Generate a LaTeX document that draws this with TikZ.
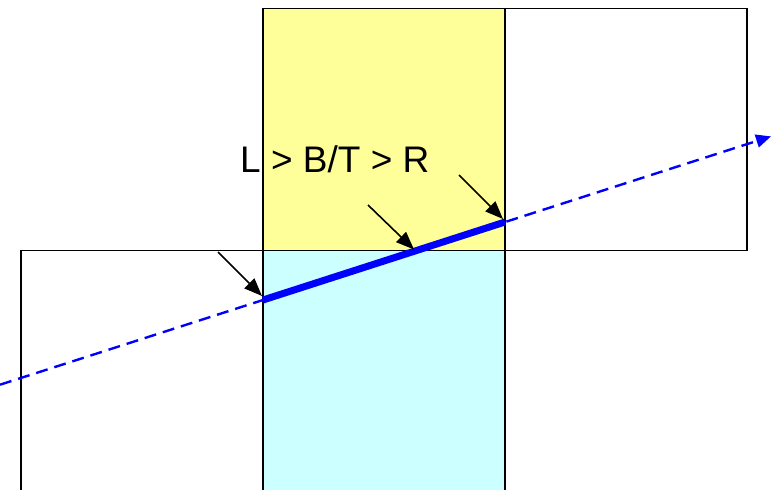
\documentclass[tikz,border=0pt]{standalone}
\usepackage{fontspec}
\setmainfont{Liberation Sans}
\usetikzlibrary{positioning, arrows.meta}
\definecolor{celltop}{HTML}{FFFF99}
\definecolor{cellbot}{HTML}{CCFFFF}
\definecolor{rayblue}{HTML}{0000FF}
\tikzset{
  cell/.style    = {rectangle, draw=black, line width=1.5bp, minimum size=242bp,
                    inner sep=0pt, outer sep=0pt},
  pointer/.style = {line width=1.6bp, -{Triangle[length=18bp, width=14bp]}},
  ray/.style     = {draw=rayblue, line width=2.4bp, dash pattern=on 12bp off 7bp,
                    -{Triangle[length=15bp, width=13bp]}},
  hit/.style     = {draw=rayblue, line width=7bp},
  lbl/.style     = {font=\fontsize{37bp}{40bp}\selectfont, inner sep=0pt},
}

\begin{document}
\begin{tikzpicture}[x=1bp, y=-1bp, node distance=0pt]
\useasboundingbox (0,0) rectangle (771,490);
\clip (0,0) rectangle (771,490);

% Cells: yellow on top, cyan below it, white neighbours
\node (top) [cell, fill=celltop] at (384,129.5) {};
\node (right) [cell, fill=white, right=of top] {};
\node (bot) [cell, fill=cellbot, below=of top] {};
\node (left) [cell, fill=white, left=of bot] {};

% Ray and the part of it that crosses the cells
\coordinate (start) at (0,384.7);
\coordinate (stop) at (771,136.4);
\coordinate (entry) at (263,300);
\coordinate (exit) at (505,222);
\coordinate (cross) at (414,249.5);
\draw [ray] (start) -- (stop);
\draw [hit] (entry) -- (exit);

% Order label and its pointers
\node (order) [lbl, anchor=base west] at (240,173) {L > B/T > R};
\coordinate (tailL) at (218,252);
\coordinate (tailB) at (368,205);
\coordinate (tailR) at (459,175);
\draw [pointer] (tailL) -- (262,296);
\draw [pointer] (tailB) -- (cross);
\draw [pointer] (tailR) -- (503,219);

\end{tikzpicture}
\end{document}
